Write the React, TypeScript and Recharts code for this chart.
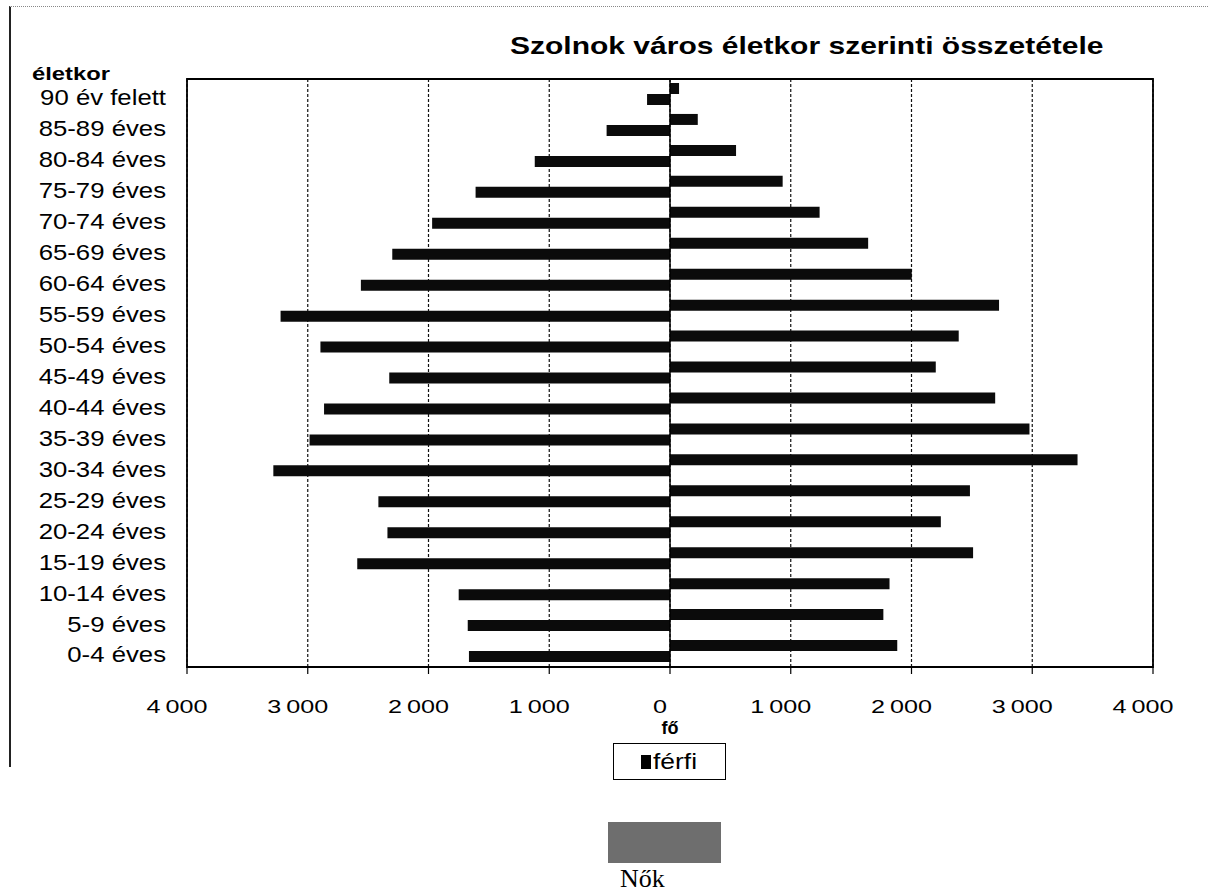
import {
  Bar,
  BarChart,
  CartesianGrid,
  Legend,
  ReferenceArea,
  ReferenceLine,
  XAxis,
  YAxis,
} from "recharts";

const ageGroups = [
  "90 év felett",
  "85-89 éves",
  "80-84 éves",
  "75-79 éves",
  "70-74 éves",
  "65-69 éves",
  "60-64 éves",
  "55-59 éves",
  "50-54 éves",
  "45-49 éves",
  "40-44 éves",
  "35-39 éves",
  "30-34 éves",
  "25-29 éves",
  "20-24 éves",
  "15-19 éves",
  "10-14 éves",
  "5-9 éves",
  "0-4 éves",
];

// férfi (right side)
const male = [75, 230, 547, 933, 1239, 1641, 2002, 2725, 2391, 2201, 2693, 2977, 3375, 2484, 2243, 2510, 1818, 1767, 1882];
// nők (left side)
const female = [190, 525, 1120, 1610, 1970, 2300, 2560, 3225, 2895, 2325, 2865, 2985, 3285, 2415, 2340, 2590, 1750, 1675, 1665];

const xTicks = [-4000, -3000, -2000, -1000, 0, 1000, 2000, 3000, 4000];

const data = ageGroups.map((age, i) => ({ age, ferfi: male[i], nok: -female[i] }));

const sans = "'Liberation Sans', Arial, sans-serif";
const LEGEND_H = 37;

function fmt(v: number) {
  const a = Math.abs(v);
  if (a < 1000) return String(a);
  return `${Math.floor(a / 1000)}\u2009${String(a % 1000).padStart(3, "0")}`;
}

function AgeTick(props: any) {
  const { x, y, payload } = props;
  return (
    <text
      transform={`translate(${x},${y + 3}) scale(1.17,1)`}
      textAnchor="end"
      dy="0.36em"
      fontSize={22}
      fontFamily={sans}
      fill="#000"
    >
      {payload.value}
    </text>
  );
}

function NumTick(props: any) {
  const { x, y, payload } = props;
  return (
    <text
      transform={`translate(${x - 10},${y}) scale(1.4,1)`}
      textAnchor="middle"
      dy="0.71em"
      fontSize={18}
      fontFamily={sans}
      fill="#000"
    >
      {fmt(payload.value)}
    </text>
  );
}

function LegendBox() {
  return (
    <div
      style={{
        boxSizing: "border-box",
        height: LEGEND_H,
        width: 113,
        display: "flex",
        alignItems: "center",
        border: "1.5px solid #000",
        paddingLeft: 27,
        fontFamily: sans,
        fontSize: 22,
        background: "#fff",
      }}
    >
      <span style={{ display: "inline-block", width: 10, height: 14, background: "#000", marginRight: 2 }} />
      <span style={{ display: "inline-block", transform: "scaleX(1.2)", transformOrigin: "left center" }}>férfi</span>
    </div>
  );
}

export default function App() {
  return (
    <div style={{ position: "absolute", left: 0, top: 0, width: 1208, height: 892, background: "#fff" }}>
      {/* scanned page frame */}
      <div
        style={{
          position: "absolute",
          left: 9,
          top: 6,
          width: 1199,
          height: 760,
          borderLeft: "2px solid #222",
          borderTop: "1px dotted #888",
        }}
      />
      <div
        style={{
          position: "absolute",
          left: 510,
          top: 34,
          fontFamily: sans,
          fontWeight: "bold",
          fontSize: 24,
          lineHeight: "24px",
          whiteSpace: "nowrap",
          transform: "scaleX(1.25)",
          transformOrigin: "left center",
        }}
      >
        Szolnok város életkor szerinti összetétele
      </div>
      <div
        style={{
          position: "absolute",
          left: 32,
          top: 64,
          fontFamily: sans,
          fontWeight: "bold",
          fontSize: 19,
          lineHeight: "19px",
          transform: "scaleX(1.25)",
          transformOrigin: "left center",
        }}
      >
        életkor
      </div>
      <div style={{ position: "absolute", left: 0, top: 0 }}>
        <BarChart
          width={1208}
          height={800}
          data={data}
          layout="vertical"
          margin={{ top: 79, right: 55, bottom: 103 - LEGEND_H, left: 27 }}
          barGap={0}
        >
          <CartesianGrid horizontal={false} stroke="#111" strokeDasharray="3 2" strokeWidth={1.2} />
          <XAxis
            type="number"
            domain={[-4000, 4000]}
            ticks={xTicks}
            interval={0}
            axisLine={{ stroke: "#000", strokeWidth: 2 }}
            tickLine={{ stroke: "#000", strokeWidth: 1.2 }}
            tickSize={7}
            tickMargin={26}
            tick={<NumTick />}
          />
          <YAxis
            type="category"
            dataKey="age"
            width={160}
            axisLine={false}
            tickLine={false}
            tickSize={0}
            tickMargin={21}
            interval={0}
            tick={<AgeTick />}
          />
          <ReferenceArea x1={-4000} x2={4000} fill="none" stroke="#000" strokeWidth={1.8} ifOverflow="visible" />
          <ReferenceLine x={0} stroke="#000" strokeWidth={1.5} />
          <Bar dataKey="ferfi" fill="#0b0b0b" barSize={11} isAnimationActive={false} />
          <Bar dataKey="nok" fill="#0b0b0b" barSize={11} isAnimationActive={false} />
          <Legend
            content={<LegendBox />}
            wrapperStyle={{ position: "absolute", left: 613, top: 743, width: 113, height: LEGEND_H }}
          />
        </BarChart>
      </div>
      <div
        style={{
          position: "absolute",
          left: 670,
          top: 719,
          transform: "translateX(-50%)",
          fontFamily: sans,
          fontWeight: "bold",
          fontSize: 18,
          lineHeight: "18px",
        }}
      >
        fő
      </div>
      <div style={{ position: "absolute", left: 608, top: 822, width: 113, height: 41, background: "#6e6e6e" }} />
      <div
        style={{
          position: "absolute",
          left: 620,
          top: 866,
          fontFamily: "'Liberation Serif', 'Times New Roman', serif",
          fontSize: 26,
          lineHeight: "26px",
        }}
      >
        Nők
      </div>
    </div>
  );
}
